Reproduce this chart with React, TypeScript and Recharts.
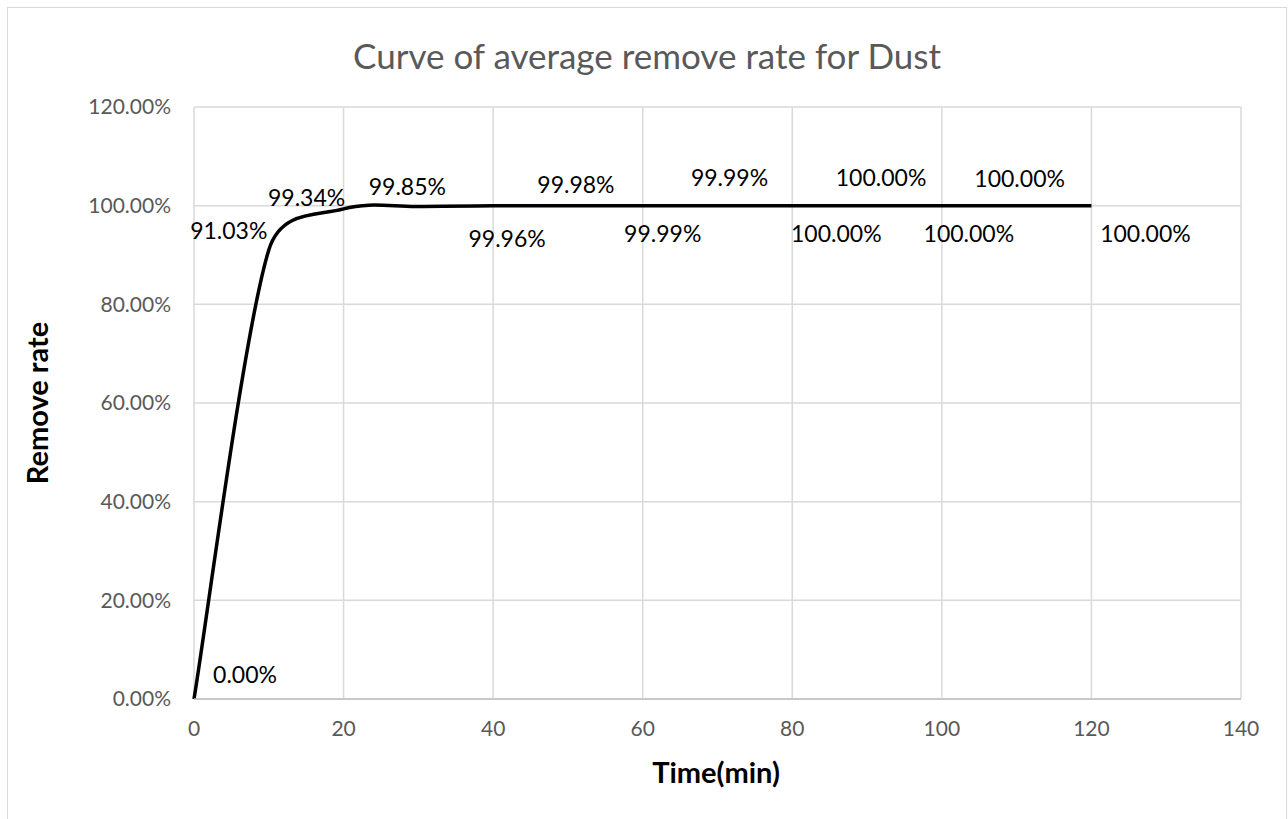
import React from "react";
import { LineChart, Line, XAxis, YAxis, CartesianGrid, LabelList } from "recharts";

const times = [0, 10, 20, 30, 40, 50, 60, 70, 80, 90, 100, 110, 120];
const removeRate = [0, 91.03, 99.34, 99.85, 99.96, 99.98, 99.99, 99.99, 100, 100, 100, 100, 100];
const xTicks = [0, 20, 40, 60, 80, 100, 120, 140];
const yTicks = [0, 20, 40, 60, 80, 100, 120];
const chartTitle = "Curve of average remove rate for Dust";
const xTitle = "Time(min)";
const yTitle = "Remove rate";

const data = times.map((t, i) => ({ time: t, rate: removeRate[i] }));

// label centre relative to its point, in px (labels were dragged around in the original)
const labelShift = [
  [51, -25], [-40, -20], [-37, -12], [-11, -20], [14, 32], [8, -22], [20, 27],
  [12, -29], [44, 27], [14, -29], [27, 27], [3, -28], [54, 27],
];

const W = 1278;
const H = 820;
const FONT = "Lato, 'Open Sans', sans-serif";

// Excel-like smoothed line: catmull-rom handles (1/6 of the neighbour chord),
// clamped to half the segment length so short segments don't overshoot
function excelSmooth(context: any) {
  let pts: number[][] = [];
  const T = 1 / 6;
  const C = 0.5;
  const dist = (a: number[], b: number[]) => Math.hypot(b[0] - a[0], b[1] - a[1]);
  const handle = (a: number[], b: number[], maxLen: number) => {
    let vx = (b[0] - a[0]) * T;
    let vy = (b[1] - a[1]) * T;
    const len = Math.hypot(vx, vy);
    if (len > maxLen && len > 0) {
      vx *= maxLen / len;
      vy *= maxLen / len;
    }
    return [vx, vy];
  };
  return {
    areaStart() {},
    areaEnd() {},
    lineStart() {
      pts = [];
    },
    point(x: number, y: number) {
      pts.push([+x, +y]);
    },
    lineEnd() {
      const n = pts.length;
      if (!n) return;
      context.moveTo(pts[0][0], pts[0][1]);
      for (let i = 0; i < n - 1; i++) {
        const p0 = pts[Math.max(i - 1, 0)];
        const p1 = pts[i];
        const p2 = pts[i + 1];
        const p3 = pts[Math.min(i + 2, n - 1)];
        const seg = dist(p1, p2);
        const v1 = handle(p0, p2, C * seg);
        const v2 = handle(p1, p3, C * seg);
        context.bezierCurveTo(
          p1[0] + v1[0],
          p1[1] + v1[1],
          p2[0] - v2[0],
          p2[1] - v2[1],
          p2[0],
          p2[1]
        );
      }
    },
  };
}

function pointLabel(props: any) {
  const { x, y, value, index } = props;
  const [dx, dy] = labelShift[index] || [0, -20];
  return (
    <text
      x={x + dx}
      y={y + dy}
      textAnchor="middle"
      dominantBaseline="central"
      fontSize={23}
      fill="#000"
      fontFamily={FONT}
    >
      {Number(value).toFixed(2)}%
    </text>
  );
}

export default function App() {
  return (
    <div
      style={{
        position: "absolute",
        left: 7,
        top: 7,
        width: W,
        height: H,
        border: "1px solid #d9d9d9",
        background: "#fff",
        fontFamily: FONT,
      }}
    >
      <div
        style={{
          position: "absolute",
          top: 26,
          left: 0,
          width: "100%",
          textAlign: "center",
          fontSize: 35,
          lineHeight: "42px",
          color: "#595959",
        }}
      >
        {chartTitle}
      </div>
      <div
        style={{
          position: "absolute",
          top: 747,
          left: 708,
          transform: "translateX(-50%)",
          fontSize: 29,
          lineHeight: "34px",
          fontWeight: "bold",
          whiteSpace: "nowrap",
          color: "#000",
        }}
      >
        {xTitle}
      </div>
      <div
        style={{
          position: "absolute",
          top: 395,
          left: 29,
          transform: "translate(-50%, -50%) rotate(-90deg)",
          fontSize: 29,
          lineHeight: "34px",
          fontWeight: "bold",
          whiteSpace: "nowrap",
          color: "#000",
        }}
      >
        {yTitle}
      </div>
      <LineChart
        width={W}
        height={H}
        data={data}
        margin={{ top: 99, right: 45, bottom: 0, left: 0 }}
      >
        <CartesianGrid stroke="#d9d9d9" strokeWidth={1.5} />
        <XAxis
          dataKey="time"
          type="number"
          domain={[0, 140]}
          ticks={xTicks}
          interval={0}
          height={129}
          tickLine={false}
          tickSize={0}
          tickMargin={22}
          axisLine={{ stroke: "#bfbfbf", strokeWidth: 1.5 }}
          tick={{ fill: "#595959", fontSize: 21 }}
        />
        <YAxis
          type="number"
          domain={[0, 120]}
          ticks={yTicks}
          interval={0}
          width={186}
          tickLine={false}
          axisLine={false}
          tickSize={0}
          tickMargin={23}
          tickFormatter={(v: number) => v.toFixed(2) + "%"}
          tick={{ fill: "#595959", fontSize: 21 }}
        />
        <Line
          dataKey="rate"
          type={excelSmooth as any}
          stroke="#000"
          strokeWidth={3.5}
          dot={false}
          isAnimationActive={false}
        >
          <LabelList dataKey="rate" content={pointLabel} />
        </Line>
      </LineChart>
    </div>
  );
}
